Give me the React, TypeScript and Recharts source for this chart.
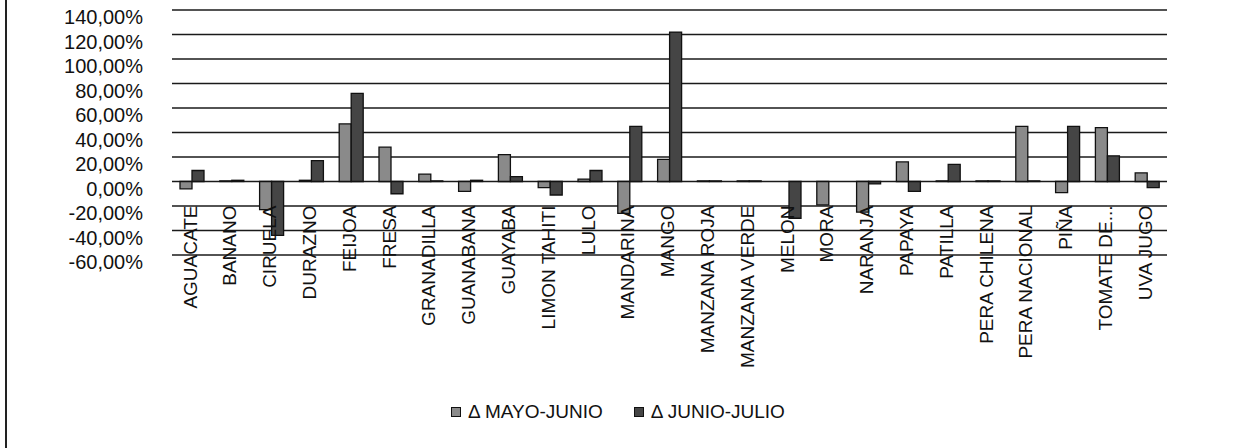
import { BarChart, Bar, XAxis, YAxis, CartesianGrid } from "recharts"

const categories = [
  "AGUACATE", "BANANO", "CIRUELA", "DURAZNO", "FEIJOA", "FRESA", "GRANADILLA",
  "GUANABANA", "GUAYABA", "LIMON TAHITI", "LULO", "MANDARINA", "MANGO",
  "MANZANA ROJA", "MANZANA VERDE", "MELON", "MORA", "NARANJA", "PAPAYA",
  "PATILLA", "PERA CHILENA", "PERA NACIONAL", "PIÑA", "TOMATE DE...", "UVA JUGO",
]

// % change
const mayoJunio = [
  -6, 0.5, -23, 1, 47, 28, 6, -8, 22, -5, 2, -26, 18,
  0.5, 0.5, 0, -19, -25, 16, 0.5, 0.5, 45, -9, 44, 7,
]
const junioJulio = [
  9, 1, -44, 17, 72, -10, 0.5, 1, 4, -11, 9, 45, 122,
  0.5, 0.5, -30, 0, -2, -8, 14, 0.5, 0.5, 45, 21, -5,
]

const yTicks = [-60, -40, -20, 0, 20, 40, 60, 80, 100, 120, 140]

const seriesNames = ["Δ MAYO-JUNIO", "Δ JUNIO-JULIO"]
const seriesColors = ["#8a8a8a", "#454545"]

const W = 1235
const H = 448
const PLOT_TOP = 10
const PLOT_BOTTOM = 255
const Y_MIN = -60
const Y_MAX = 140
const FONT = '"Liberation Sans", Arial, sans-serif'

const data = categories.map((name, i) => ({
  name,
  mayoJunio: mayoJunio[i],
  junioJulio: junioJulio[i],
}))

const fmtPct = (v: number) => v.toFixed(2).replace(".", ",") + "%"

// zero line position follows from the domain
const zeroY =
  PLOT_TOP + ((PLOT_BOTTOM - PLOT_TOP) * Y_MAX) / (Y_MAX - Y_MIN)

function CategoryTick(props: any) {
  const { x, payload } = props
  return (
    <g transform={`translate(${x - 2},${zeroY + 24})`}>
      <text
        transform="rotate(-90)"
        textAnchor="end"
        dy="0.35em"
        fill="#111"
        style={{ fontFamily: FONT, fontSize: 19 }}
      >
        {payload.value}
      </text>
    </g>
  )
}

function ValueTick(props: any) {
  const { x, y, payload } = props
  return (
    <text
      x={x}
      y={y + 7}
      textAnchor="end"
      dy="0.35em"
      fill="#111"
      style={{ fontFamily: FONT, fontSize: 20 }}
    >
      {fmtPct(payload.value)}
    </text>
  )
}

export default function App() {
  return (
    <div
      style={{
        position: "absolute",
        left: 0,
        top: 0,
        width: W,
        height: H,
        background: "#fff",
        overflow: "hidden",
      }}
    >
      <div
        style={{
          position: "absolute",
          left: 5,
          top: 0,
          width: 2,
          height: H,
          background: "#222",
        }}
      />
      <BarChart
        width={W}
        height={H}
        data={data}
        margin={{ top: PLOT_TOP, right: 68, bottom: H - PLOT_BOTTOM - 1, left: 0 }}
        barGap={0}
        barSize={12}
      >
        <CartesianGrid vertical={false} stroke="#1a1a1a" strokeWidth={1.6} />
        <XAxis
          dataKey="name"
          interval={0}
          axisLine={false}
          tickLine={false}
          height={1}
          tick={<CategoryTick />}
        />
        <YAxis
          width={172}
          domain={[Y_MIN, Y_MAX]}
          ticks={yTicks}
          axisLine={false}
          tickLine={false}
          tickSize={0}
          tickMargin={29}
          tick={<ValueTick />}
        />
        <Bar
          dataKey="mayoJunio"
          name={seriesNames[0]}
          fill={seriesColors[0]}
          stroke="#111"
          strokeWidth={1.3}
          isAnimationActive={false}
        />
        <Bar
          dataKey="junioJulio"
          name={seriesNames[1]}
          fill={seriesColors[1]}
          stroke="#111"
          strokeWidth={1.3}
          isAnimationActive={false}
        />
      </BarChart>

      <div
        style={{
          position: "absolute",
          left: 451,
          top: 401,
          display: "flex",
          alignItems: "center",
          gap: 31,
          fontFamily: FONT,
          fontSize: 19,
          color: "#111",
        }}
      >
        {seriesNames.map((n, i) => (
          <div key={n} className="flex" style={{ display: "flex", alignItems: "center", gap: 7 }}>
            <span
              style={{
                width: 10,
                height: 10,
                background: seriesColors[i],
                border: "1px solid #111",
                boxSizing: "border-box",
              }}
            />
            <span>{n}</span>
          </div>
        ))}
      </div>
    </div>
  )
}
